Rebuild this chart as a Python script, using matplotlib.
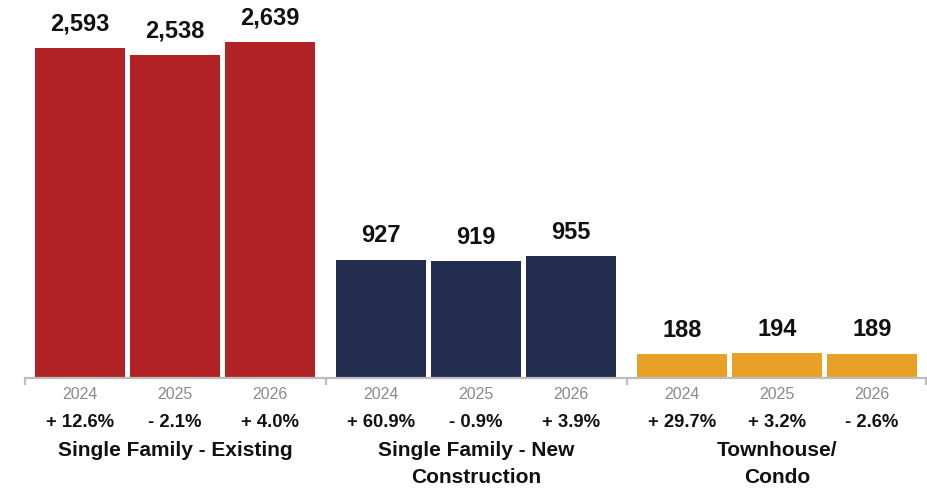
import matplotlib
matplotlib.use("Agg")
import matplotlib.pyplot as plt

plt.rcParams["font.family"] = ["Liberation Sans", "DejaVu Sans"]

# Sales by property type and year
categories = ["Single Family - Existing", "Single Family - New\nConstruction", "Townhouse/\nCondo"]
years = ["2024", "2025", "2026"]
sf_existing = [2593, 2538, 2639]
sf_new = [927, 919, 955]
townhouse_condo = [188, 194, 189]
pct_change = [
    ["+ 12.6%", "- 2.1%", "+ 4.0%"],
    ["+ 60.9%", "- 0.9%", "+ 3.9%"],
    ["+ 29.7%", "+ 3.2%", "- 2.6%"],
]
colors = ["#B22326", "#222D50", "#E8A026"]

series = [sf_existing, sf_new, townhouse_condo]

W, H = 928, 489
fig = plt.figure(figsize=(W / 100, H / 100), dpi=100)
base_px = 110  # baseline height from figure bottom, pixels
ax = fig.add_axes([0, base_px / H, 1, 1 - base_px / H])
ax.set_xlim(0, W)
ax.set_ylim(0, 379 / 0.1273)

first_center, bar_step, group_step, bar_w = 80, 95, 301, 90

for g, vals in enumerate(series):
    xs = [first_center + g * group_step + i * bar_step for i in range(len(vals))]
    ax.bar(xs, vals, width=bar_w, color=colors[g], linewidth=0)
    for x, v, yr, pc in zip(xs, vals, years, pct_change[g]):
        ax.annotate(f"{v:,}", xy=(x, v), xytext=(0, 18), textcoords="offset points",
                    ha="center", va="center", fontsize=17, fontweight="bold", color="#111111")
        ax.annotate(yr, xy=(x, 0), xytext=(0, -11.5), textcoords="offset points",
                    ha="center", va="center", fontsize=11.5, color="#8a8a8a",
                    annotation_clip=False)
        ax.annotate(pc, xy=(x, 0), xytext=(0, -31.5), textcoords="offset points",
                    ha="center", va="center", fontsize=13.3, fontweight="bold", color="#111111",
                    annotation_clip=False)
    gc = xs[1]
    for k, line in enumerate(categories[g].split("\n")):
        ax.annotate(line, xy=(gc, 0), xytext=(0, -51.5 - k * 19.5), textcoords="offset points",
                    ha="center", va="center", fontsize=15, fontweight="bold", color="#111111",
                    annotation_clip=False)

for side in ["top", "right", "left"]:
    ax.spines[side].set_visible(False)
ax.spines["bottom"].set_color("#bdbdbd")
ax.spines["bottom"].set_linewidth(1.6)
edges = [25, 326, 627, 926]
ax.spines["bottom"].set_bounds(edges[0], edges[-1])
ax.set_xticks(edges)
ax.set_xticklabels([])
ax.tick_params(axis="x", direction="out", length=5, width=1.6, color="#bdbdbd")
ax.set_yticks([])
ax.patch.set_alpha(0)

fig.savefig("out.png", dpi=100)
